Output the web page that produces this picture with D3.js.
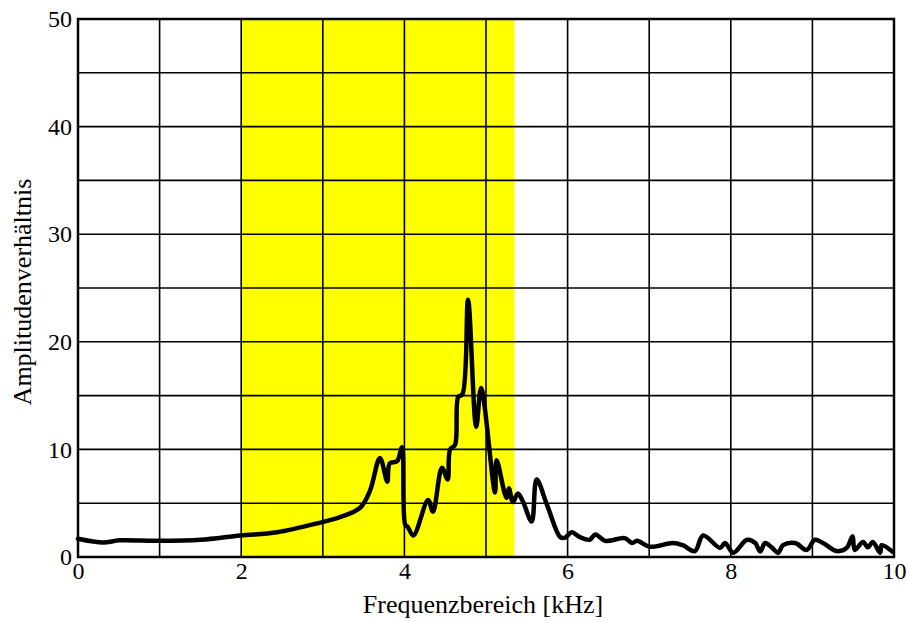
<!DOCTYPE html>
<html><head><meta charset="utf-8">
<script src="https://cdn.jsdelivr.net/npm/d3@7"></script>
<style>body{margin:0;background:#fff}svg{display:block}text{font-family:"Liberation Serif","DejaVu Serif",serif}</style>
</head><body>
<svg id="c" width="907" height="621"></svg>
<script>
const freq = [0,0.31,0.51,1.0,1.5,1.99,2.44,2.97,3.21,3.46,3.58,3.70,3.79,3.82,3.91,3.97,4.01,4.04,4.11,4.29,4.35,4.46,4.53,4.56,4.62,4.66,4.71,4.78,4.88,4.94,5.11,5.13,5.25,5.28,5.33,5.39,5.45,5.56,5.62,5.75,5.91,5.97,6.05,6.15,6.27,6.34,6.46,6.70,6.79,6.85,7.01,7.29,7.41,7.56,7.66,7.87,7.93,8.03,8.20,8.30,8.36,8.42,8.50,8.58,8.64,8.79,8.93,9.03,9.13,9.30,9.42,9.49,9.52,9.62,9.68,9.74,9.83,9.85,9.98];
const amp  = [1.7,1.35,1.55,1.5,1.6,2.0,2.3,3.2,3.7,4.6,6.2,9.2,7.0,8.7,8.9,10.2,3.0,2.8,2.0,5.3,4.2,8.3,7.2,10.0,10.4,14.9,15.1,23.9,12.1,15.7,6.0,9.0,5.5,6.4,5.1,5.9,5.2,3.3,7.2,4.8,1.85,1.8,2.3,1.85,1.6,2.1,1.5,1.75,1.3,1.5,0.95,1.3,1.1,0.55,2.0,0.85,1.3,0.4,1.6,1.3,0.5,1.3,0.9,0.4,1.1,1.3,0.65,1.6,1.3,0.55,0.85,1.9,0.65,1.4,0.9,1.4,0.4,1.1,0.5];
const bandRange = [2, 5.35];
const xTicks = [0,2,4,6,8,10];
const yTicks = [0,10,20,30,40,50];
const xGrid = [1,2,3,4,5,6,7,8,9];
const yGrid = [5,10,15,20,25,30,35,40,45];
const xTitle = "Frequenzbereich [kHz]";
const yTitle = "Amplitudenverhältnis";

const m = {l:78, t:19, r:13, b:64};
const W = 907, H = 621;
const svg = d3.select("#c");
const x = d3.scaleLinear().domain([0,10]).range([m.l, W-m.r]);
const y = d3.scaleLinear().domain([0,50]).range([H-m.b, m.t]);
const font = '"Liberation Serif", "DejaVu Serif", serif';

svg.append("rect").attr("x", x(bandRange[0])).attr("y", y(50))
  .attr("width", x(bandRange[1]) - x(bandRange[0])).attr("height", y(0)-y(50))
  .attr("fill", "#ffff00");

svg.append("g").selectAll("line").data(xGrid).join("line")
  .attr("x1", d=>x(d)).attr("x2", d=>x(d)).attr("y1", y(0)).attr("y2", y(50))
  .attr("stroke", "#000").attr("stroke-width", 1.6);
svg.append("g").selectAll("line").data(yGrid).join("line")
  .attr("y1", d=>y(d)).attr("y2", d=>y(d)).attr("x1", x(0)).attr("x2", x(10))
  .attr("stroke", "#000").attr("stroke-width", 1.6);

const line = d3.line().x((d,i)=>x(freq[i])).y(d=>y(d)).curve(d3.curveCatmullRom.alpha(0.5));
svg.append("path").attr("d", line(amp)).attr("fill","none")
  .attr("stroke","#000").attr("stroke-width",4.5).attr("stroke-linejoin","round").attr("stroke-linecap","round");

svg.append("rect").attr("x", x(0)).attr("y", y(50)).attr("width", x(10)-x(0)).attr("height", y(0)-y(50))
  .attr("fill","none").attr("stroke","#000").attr("stroke-width",2.5);

const xa = svg.append("g").attr("transform", `translate(0,${y(0)})`)
  .call(d3.axisBottom(x).tickValues(xTicks).tickSize(0).tickPadding(5).tickFormat(d3.format("d")));
xa.select(".domain").remove();
xa.selectAll("text").style("font-family", font).attr("font-size", 24).attr("fill","#000");

const ya = svg.append("g").attr("transform", `translate(${x(0)},0)`)
  .call(d3.axisLeft(y).tickValues(yTicks).tickSize(0).tickPadding(6).tickFormat(d3.format("d")));
ya.select(".domain").remove();
ya.selectAll("text").style("font-family", font).attr("font-size", 24).attr("fill","#000");

svg.append("text").attr("x", 483).attr("y", 613).attr("text-anchor","middle")
  .style("font-family", font).attr("font-size", 26).text(xTitle);
svg.append("text").attr("transform", `translate(31,292) rotate(-90)`).attr("text-anchor","middle")
  .style("font-family", font).attr("font-size", 26).text(yTitle);
</script>
</body></html>
